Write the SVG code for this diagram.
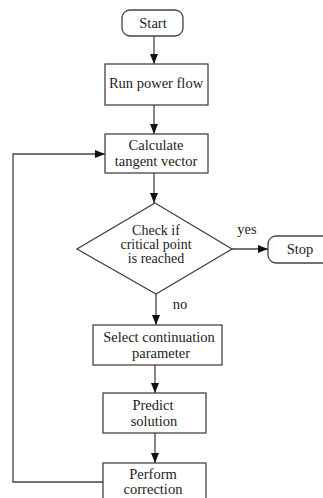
<svg xmlns="http://www.w3.org/2000/svg" width="323" height="498" viewBox="0 0 323 498">
<defs>
<marker id="arr" markerWidth="10" markerHeight="8" refX="10" refY="4" orient="auto" markerUnits="userSpaceOnUse">
<path d="M0,0 L10,4 L0,8 z" fill="#111"/>
</marker>
<style>
.box{fill:#fff;stroke:#444;stroke-width:1.3}
.ln{fill:none;stroke:#444;stroke-width:1.3}
.dia{font-size:14px}
</style>
</defs>
<rect width="323" height="498" fill="#fff"/>
<g font-family="Liberation Serif, DejaVu Serif, serif" font-size="14.5" fill="#222" text-anchor="middle">
<g id="connectors">
<line class="ln" x1="154" y1="36" x2="154" y2="64" marker-end="url(#arr)"/>
<line class="ln" x1="154" y1="105" x2="154" y2="134" marker-end="url(#arr)"/>
<line class="ln" x1="154" y1="173" x2="154" y2="203" marker-end="url(#arr)"/>
<line class="ln" x1="232" y1="249" x2="268" y2="249" marker-end="url(#arr)"/>
<line class="ln" x1="156" y1="294" x2="156" y2="325" marker-end="url(#arr)"/>
<line class="ln" x1="155" y1="365" x2="155" y2="393" marker-end="url(#arr)"/>
<line class="ln" x1="155" y1="433" x2="155" y2="463" marker-end="url(#arr)"/>
<polyline class="ln" points="103,482 13,482 13,154 105,154" marker-end="url(#arr)"/>
<text x="247" y="234">yes</text>
<text x="180" y="309">no</text>
</g>
<g id="start">
<rect class="box" x="122" y="10" width="61" height="26" rx="8"/>
<text x="153" y="28">Start</text>
</g>
<g id="run">
<rect class="box" x="105" y="64" width="103" height="41"/>
<text x="156" y="88">Run power flow</text>
</g>
<g id="calc">
<rect class="box" x="105" y="134" width="103" height="39"/>
<text x="156" y="150">Calculate</text>
<text x="156" y="166">tangent vector</text>
</g>
<g id="check">
<polygon class="box" points="155,203 232,249 156,294 77,249"/>
<text class="dia" x="156" y="235">Check if</text>
<text class="dia" x="156" y="249">critical point</text>
<text class="dia" x="156" y="263">is reached</text>
</g>
<g id="stop">
<rect class="box" x="268" y="236" width="70" height="27" rx="8"/>
<text x="300" y="254">Stop</text>
</g>
<g id="select">
<rect class="box" x="93" y="325" width="129" height="40"/>
<text x="159" y="342">Select continuation</text>
<text x="161" y="358">parameter</text>
</g>
<g id="predict">
<rect class="box" x="103" y="393" width="103" height="40"/>
<text x="153" y="410">Predict</text>
<text x="154" y="426">solution</text>
</g>
<g id="perform">
<rect class="box" x="103" y="463" width="103" height="45"/>
<text x="153" y="479">Perform</text>
<text x="153" y="494">correction</text>
</g>
</g>
</svg>
